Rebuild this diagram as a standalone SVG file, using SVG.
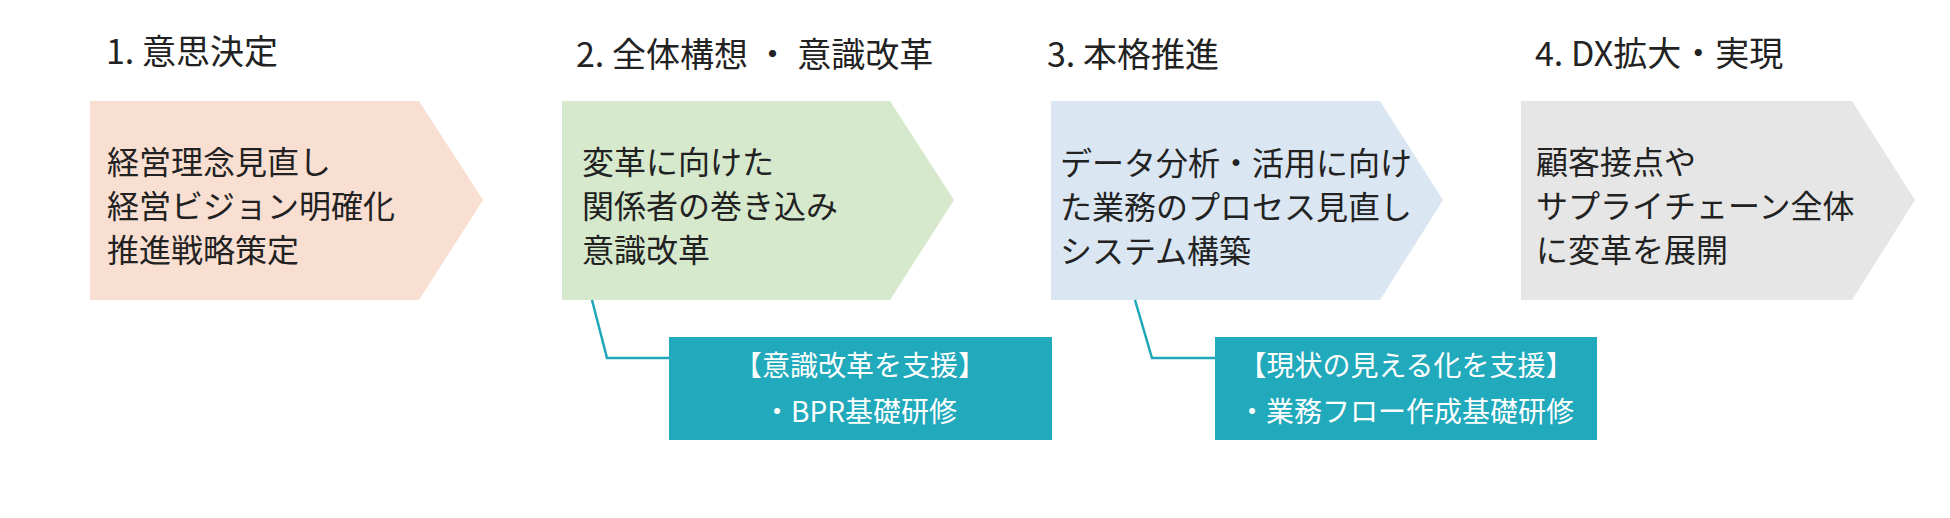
<svg xmlns="http://www.w3.org/2000/svg" width="1950" height="518" viewBox="0 0 1950 518">
<style>
text{font-family:"Noto Sans CJK JP","Noto Sans",sans-serif;fill:#222222}
.title{font-size:34px}
.body{font-size:32px}
.sup{font-size:28px;fill:#ffffff;text-anchor:middle}
.conn{fill:none;stroke:#1fa6b8;stroke-width:2.5}
.teal{fill:#21a9bc}
</style>
<rect width="1950" height="518" fill="#ffffff"/>
<g id="step1">
<text class="title" x="106" y="64">1. 意思決定</text>
<polygon points="90,101 419,101 483,200 419,300 90,300" fill="#f8dfd2"/>
<text class="body" x="107" y="174">経営理念見直し</text>
<text class="body" x="107" y="218">経営ビジョン明確化</text>
<text class="body" x="107" y="262">推進戦略策定</text>
</g>
<g id="step2">
<text class="title" x="576" y="67">2. 全体構想 ・ 意識改革</text>
<polygon points="562,101 890,101 954,200 890,300 562,300" fill="#d6e9cd"/>
<text class="body" x="582" y="174">変革に向けた</text>
<text class="body" x="582" y="218">関係者の巻き込み</text>
<text class="body" x="582" y="262">意識改革</text>
</g>
<g id="step3">
<text class="title" x="1047" y="67">3. 本格推進</text>
<polygon points="1051,101 1380,101 1443,200 1380,300 1051,300" fill="#dae6f2"/>
<text class="body" x="1060" y="175">データ分析・活用に向け</text>
<text class="body" x="1060" y="219">た業務のプロセス見直し</text>
<text class="body" x="1060" y="263">システム構築</text>
</g>
<g id="step4">
<text class="title" x="1535" y="66">4. DX拡大・実現</text>
<polygon points="1521,101 1852,101 1915,200 1852,300 1521,300" fill="#e6e6e6"/>
<text class="body" x="1536" y="174">顧客接点や</text>
<text class="body" x="1536" y="218">サプライチェーン全体</text>
<text class="body" x="1536" y="262">に変革を展開</text>
</g>
<g id="support1">
<rect class="teal" x="669" y="337" width="383" height="103"/>
<text class="sup" x="860" y="376">【意識改革を支援】</text>
<text class="sup" x="860" y="422">・BPR基礎研修</text>
</g>
<g id="support2">
<rect class="teal" x="1215" y="337" width="382" height="103"/>
<text class="sup" x="1406" y="376">【現状の見える化を支援】</text>
<text class="sup" x="1406" y="422">・業務フロー作成基礎研修</text>
</g>
<g id="connectors">
<polyline class="conn" points="592,300 607,358 669,358"/>
<polyline class="conn" points="1135,300 1152,358 1215,358"/>
</g>
</svg>
